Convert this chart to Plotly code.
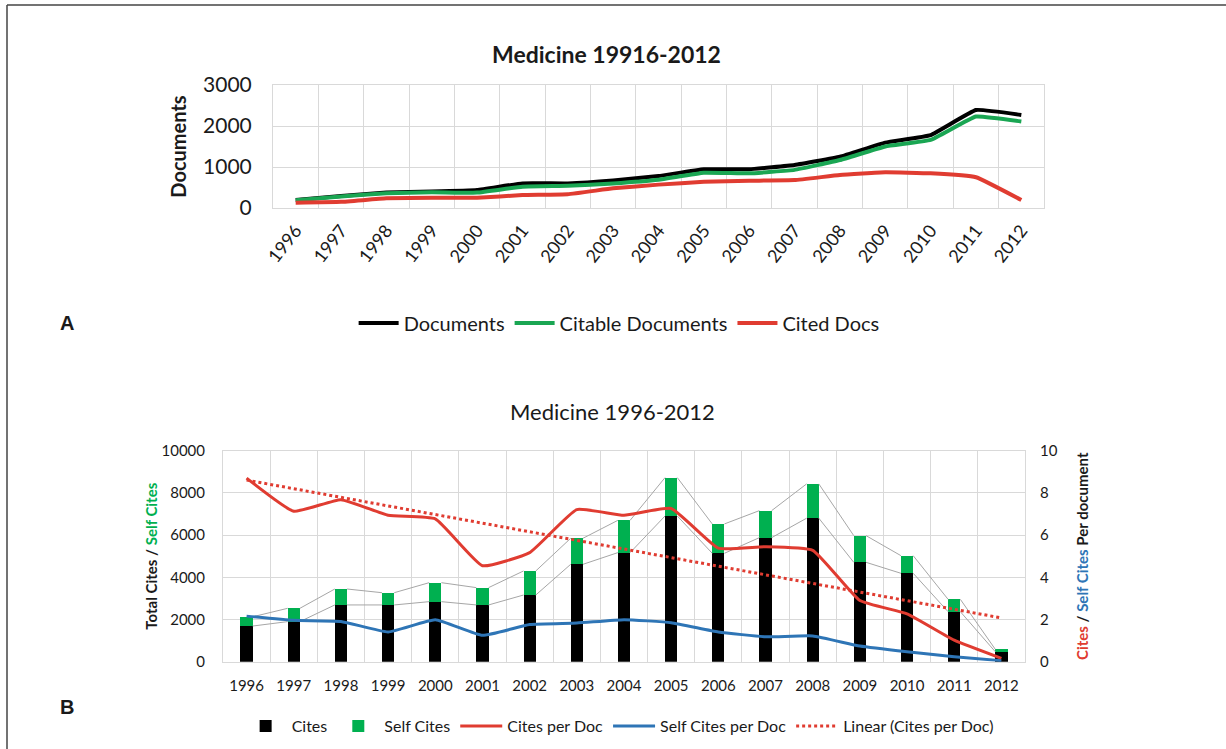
import numpy as np
import plotly.graph_objects as go

W, H = 1226, 749

years = list(range(1996, 2013))
year_labels = [str(y) for y in years]

# Panel A
documents = [195, 290, 375, 400, 440, 600, 600, 670, 780, 945, 945, 1050, 1250, 1595, 1780, 2390, 2270]
citable_docs = [190, 280, 360, 385, 375, 520, 540, 600, 690, 860, 845, 930, 1170, 1500, 1660, 2230, 2110]
cited_docs = [130, 150, 235, 250, 250, 315, 335, 480, 570, 640, 665, 680, 805, 870, 845, 750, 195]

# Panel B
cites = [1690, 1900, 2690, 2690, 2845, 2690, 3160, 4615, 5170, 6905, 5140, 5880, 6800, 4710, 4190, 2370, 474]
self_cites = [440, 630, 755, 580, 900, 820, 1140, 1235, 1530, 1820, 1390, 1280, 1625, 1265, 835, 585, 116]
cites_per_doc = [8.70, 7.13, 7.68, 6.94, 6.77, 4.55, 5.17, 7.21, 6.94, 7.26, 5.38, 5.45, 5.28, 2.90, 2.27, 1.02, 0.16]
self_cites_per_doc = [2.16, 1.96, 1.91, 1.41, 1.99, 1.25, 1.76, 1.83, 1.99, 1.85, 1.41, 1.18, 1.22, 0.74, 0.47, 0.24, 0.05]

FONT = "Lato"
GRID = "#d9d9d9"
BLACK = "#000000"
GREEN_A = "#1aa653"
GREEN_B = "#00b050"
RED = "#e03c31"
BLUE = "#2e75b6"


def px_x(x):
    return x / W


def px_y(y):
    return 1 - y / H


fig = go.Figure()

# ---------- Panel A ----------
fig.add_trace(go.Scatter(x=years, y=documents, name="Documents", mode="lines",
                         line=dict(color=BLACK, width=4, shape="spline", smoothing=0.3),
                         xaxis="x", yaxis="y", legend="legend"))
fig.add_trace(go.Scatter(x=years, y=citable_docs, name="Citable Documents", mode="lines",
                         line=dict(color=GREEN_A, width=4, shape="spline", smoothing=0.3),
                         xaxis="x", yaxis="y", legend="legend"))
fig.add_trace(go.Scatter(x=years, y=cited_docs, name="Cited Docs", mode="lines",
                         line=dict(color=RED, width=4, shape="spline", smoothing=0.3),
                         xaxis="x", yaxis="y", legend="legend"))

# ---------- Panel B ----------
bar_w = 0.26
fig.add_trace(go.Bar(x=years, y=cites, name="Cites", marker=dict(color=BLACK, line=dict(width=0)),
                     width=bar_w, xaxis="x2", yaxis="y2", legend="legend2"))
fig.add_trace(go.Bar(x=years, y=self_cites, name="Self Cites", marker=dict(color=GREEN_B, line=dict(width=0)),
                     width=bar_w, xaxis="x2", yaxis="y2", legend="legend2"))

# series lines connecting stacked bar tops
totals = [c + s for c, s in zip(cites, self_cites)]
for tops in (cites, totals):
    sx, sy = [], []
    for i in range(len(years) - 1):
        sx += [years[i] + bar_w / 2, years[i + 1] - bar_w / 2, None]
        sy += [tops[i], tops[i + 1], None]
    fig.add_trace(go.Scatter(x=sx, y=sy, mode="lines", line=dict(color="#a6a6a6", width=1),
                             showlegend=False, hoverinfo="skip", xaxis="x2", yaxis="y2"))

fig.add_trace(go.Scatter(x=years, y=cites_per_doc, name="Cites per Doc", mode="lines",
                         line=dict(color=RED, width=3, shape="spline", smoothing=0.4),
                         xaxis="x2", yaxis="y3", legend="legend2"))
fig.add_trace(go.Scatter(x=years, y=self_cites_per_doc, name="Self Cites per Doc", mode="lines",
                         line=dict(color=BLUE, width=3, shape="spline", smoothing=0.4),
                         xaxis="x2", yaxis="y3", legend="legend2"))

slope, intercept = np.polyfit(np.array(years, dtype=float), np.array(cites_per_doc), 1)
trend = [slope * y + intercept for y in years]
fig.add_trace(go.Scatter(x=years, y=trend, name="Linear (Cites per Doc)", mode="lines",
                         line=dict(color=RED, width=3, dash="dot"),
                         xaxis="x2", yaxis="y3", legend="legend2"))

# ---------- Layout ----------
common_x = dict(range=[1995.5, 2012.5], tickmode="array", tickvals=years, ticktext=year_labels,
                showgrid=False, zeroline=False, showline=True, linecolor=GRID, mirror=True,
                automargin=False,
                ticks="", minor=dict(tickmode="linear", tick0=1995.5, dtick=1, showgrid=True,
                                     gridcolor=GRID, gridwidth=1, ticks=""))

fig.update_layout(
    width=W, height=H,
    margin=dict(l=0, r=0, t=0, b=0, autoexpand=False),
    paper_bgcolor="white", plot_bgcolor="white",
    font=dict(family=FONT, color="#1a1a1a"),
    barmode="stack",
    xaxis=dict(domain=[px_x(273), px_x(1044)], anchor="y", tickangle=-52,
               tickfont=dict(size=18, color="#1a1a1a"), ticklabelstandoff=4, **common_x),
    yaxis=dict(domain=[px_y(208), px_y(85)], anchor="x", range=[0, 3000], dtick=1000,
               automargin=False,
               showgrid=True, gridcolor=GRID, zeroline=False, showline=True, linecolor=GRID,
               mirror=True, tickfont=dict(size=21, color="#1a1a1a"), ticklabelstandoff=16,
               title=dict(text="<b>Documents</b>", font=dict(size=20, color="#1a1a1a"), standoff=11)),
    xaxis2=dict(domain=[px_x(223), px_x(1025)], anchor="y2",
                tickfont=dict(size=15, color="#1a1a1a"), ticklabelstandoff=10, **common_x),
    yaxis2=dict(domain=[px_y(661.7), px_y(450.7)], anchor="x2", range=[0, 10000], dtick=2000,
                tickformat="d", automargin=False,
                showgrid=True, gridcolor=GRID, zeroline=False, showline=True, linecolor=GRID,
                mirror=True, tickfont=dict(size=15, color="#1a1a1a"), ticklabelstandoff=14,
                title=dict(text="<b>Total Cites / <span style='color:#00b050'>Self Cites</span></b>",
                           font=dict(size=15, color="#1a1a1a"), standoff=0)),
    yaxis3=dict(overlaying="y2", anchor="x2", side="right", range=[0, 10], dtick=2,
                automargin=False,
                showgrid=False, zeroline=False, showline=False,
                tickfont=dict(size=15, color="#1a1a1a"), ticklabelstandoff=14,
                title=dict(text="<b><span style='color:#e03c31'>Cites</span> / "
                                "<span style='color:#2e75b6'>Self Cites</span> Per document</b>",
                           font=dict(size=15, color="#1a1a1a"), standoff=20)),
    legend=dict(orientation="h", x=0.505, xanchor="center", y=px_y(323), yanchor="middle",
                font=dict(size=20, color="#1a1a1a"), bgcolor="rgba(0,0,0,0)", itemwidth=40,
                traceorder="normal"),
    legend2=dict(orientation="h", x=0.505, xanchor="center", y=px_y(726), yanchor="middle",
                 font=dict(size=16, color="#1a1a1a"), bgcolor="rgba(0,0,0,0)", itemwidth=42,
                 traceorder="normal"),
    annotations=[
        dict(text="<b>Medicine 19916-2012</b>", x=px_x(606), y=px_y(38), xref="paper", yref="paper",
             showarrow=False, font=dict(size=23, color="#1a1a1a", family=FONT)),
        dict(text="Medicine 1996-2012", x=px_x(612), y=px_y(411), xref="paper", yref="paper",
             showarrow=False, font=dict(size=22, color="#1a1a1a", family=FONT)),
        dict(text="<b>A</b>", x=px_x(58), y=px_y(323), xref="paper", yref="paper",
             showarrow=False, font=dict(size=20, color="#1a1a1a", family="Liberation Sans")),
        dict(text="<b>B</b>", x=px_x(58), y=px_y(720), xref="paper", yref="paper",
             showarrow=False, font=dict(size=20, color="#1a1a1a", family="Liberation Sans")),
    ],
    shapes=[
        dict(type="line", xref="paper", yref="paper", x0=px_x(7), x1=1, y0=px_y(5), y1=px_y(5),
             line=dict(color="#444444", width=1.5)),
        dict(type="line", xref="paper", yref="paper", x0=px_x(7), x1=px_x(7), y0=px_y(5), y1=0,
             line=dict(color="#444444", width=1.5)),
    ],
)

fig.write_html("out.html")
